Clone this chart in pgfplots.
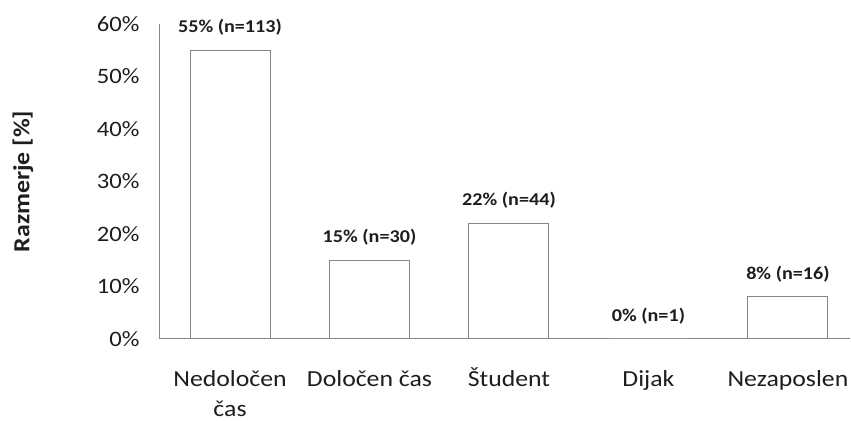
\documentclass[border=0pt]{standalone}
\usepackage{pgfplots}
\pgfplotsset{compat=1.18}
\usepackage{fontspec}
\setmainfont{Carlito}[FakeStretch=1.12]
\definecolor{txt}{RGB}{30,30,30}
\definecolor{edge}{RGB}{134,134,134}

\begin{document}
\begin{tikzpicture}
\begin{axis}[name=ax, scale only axis, width=690pt, height=315pt,
  ybar, bar width=80pt, ymin=0, ymax=60, xmin=-0.502, xmax=4.445,
  clip=false,
  axis x line*=bottom, axis y line*=left,
  axis line style={edge, -, line width=1pt},
  major tick length=0pt,
  xtick=data,
  xticklabels={{Nedoločen\\čas}, Določen čas, Študent, Dijak, Nezaposlen},
  typeset ticklabels with strut,
  xticklabel style={align=center, font=\fontsize{23}{30}\selectfont, text=txt, yshift=-23pt},
  ytick={0,10,...,60},
  yticklabel={\pgfmathprintnumber{\tick}\%},
  yticklabel style={font=\fontsize{22}{26}\selectfont, text=txt, xshift=-17pt},
  /pgf/number format/assume math mode=true,
  ylabel={\bfseries Razmerje [\%]},
  every axis y label/.style={at={(axis description cs:-0.1986,0.5)}, rotate=90, anchor=center,
    font=\fontsize{23}{27}\selectfont, text=txt},
  nodes near coords, point meta=explicit symbolic,
  every node near coord/.append style={font=\bfseries\fontsize{18}{22}\selectfont, text=txt, anchor=center, yshift=23pt},
]
% values
\addplot[draw=edge, fill=white, line width=1pt] coordinates {
  (0,55) [55\% (n=113)]
  (1,15) [15\% (n=30)]
  (2,22) [22\% (n=44)]
  (3,0)  [0\% (n=1)]
  (4,8)  [8\% (n=16)]
};
\end{axis}
\pgfresetboundingbox
\path ([xshift=-160pt,yshift=-82pt]ax.south west) rectangle ([xshift=1pt,yshift=24pt]ax.north east);
\end{tikzpicture}
\end{document}
